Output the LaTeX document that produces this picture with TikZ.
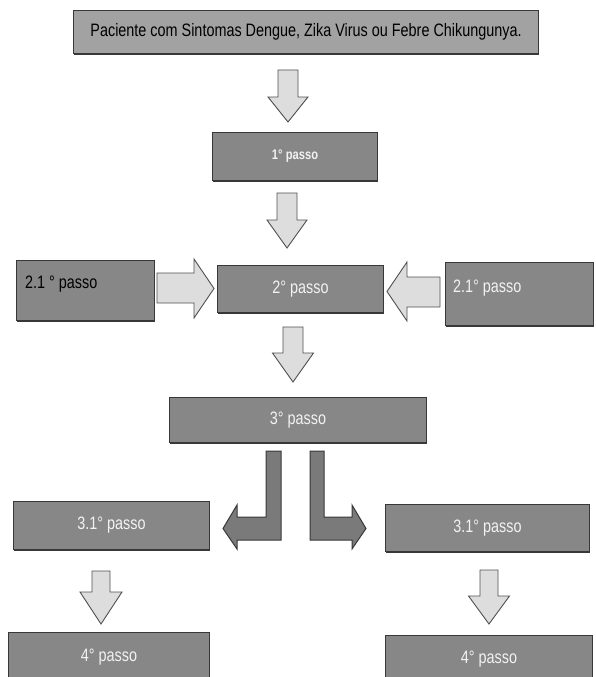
\documentclass[tikz,border=0pt]{standalone}
\usepackage{fontspec}
\newfontfamily\nfont[FakeStretch=0.8]{Liberation Sans}
\newfontfamily\nbfont[FakeStretch=0.8]{Liberation Sans Bold}
\usetikzlibrary{shadows}
\definecolor{boxfill}{HTML}{878787}
\definecolor{boxline}{HTML}{383838}
\definecolor{topfill}{HTML}{A2A2A2}
\definecolor{arrfill}{HTML}{DDDDDD}
\definecolor{arrline}{HTML}{505050}
\definecolor{bentfill}{HTML}{7A7A7A}
\definecolor{wtext}{HTML}{F2F2F2}
\tikzset{
  box/.style={draw=boxline, line width=1.1pt, fill=boxfill, anchor=north west,
    inner sep=0pt, font=\nfont\fontsize{18}{20}\selectfont, text=wtext,
    drop shadow={shadow xshift=0.8pt, shadow yshift=-1.6pt, fill=boxline, opacity=1}},
  lbl/.style={inner sep=0pt, font=\nfont\fontsize{18}{20}\selectfont},
  blockarrow/.style={draw=arrline, line width=0.9pt, fill=arrfill, line join=miter},
  bentarrow/.style={draw=boxline, line width=1pt, fill=bentfill, line join=miter}
}
\newcommand{\DArrow}[6]{%
  \draw[blockarrow] ({#1-#5},#2) -- ({#1+#5},#2) -- ({#1+#5},#3) -- ({#1+#6},#3)
    -- (#1,#4) -- ({#1-#6},#3) -- ({#1-#5},#3) -- cycle;}
\begin{document}
\begin{tikzpicture}[x=1pt,y=-1pt]
\useasboundingbox (0,0) rectangle (595,677);
\clip (0,0) rectangle (595,677);
% boxes
\node[box, fill=topfill, text=black, minimum width=465pt, minimum height=43pt] (top) at (73,10)
  {Paciente com Sintomas Dengue, Zika Virus ou Febre Chikungunya.};
\node[box, minimum width=165pt, minimum height=48pt, font=\nbfont\fontsize{14}{16}\selectfont] (b1) at (212,132) {1° passo};
\node[box, minimum width=138pt, minimum height=60pt] (b21L) at (16,260) {};
\node[lbl, anchor=west, text=black] (t21L) at ([xshift=9pt,yshift=6pt]b21L.west) {2.1 ° passo};
\node[box, minimum width=166pt, minimum height=47pt] (b2) at (217,265) {2° passo};
\node[box, minimum width=148pt, minimum height=63pt] (b21R) at (445,262) {};
\node[lbl, anchor=west, text=wtext] (t21R) at ([xshift=8pt,yshift=6pt]b21R.west) {2.1° passo};
\node[box, minimum width=257pt, minimum height=45pt] (b3) at (169,397) {3° passo};
\node[box, minimum width=196pt, minimum height=48pt] (b31L) at (13,501) {3.1° passo};
\node[box, minimum width=204pt, minimum height=47pt] (b31R) at (385,504) {3.1° passo};
\node[box, minimum width=201pt, minimum height=50pt] (b4L) at (8,632) {4° passo};
\node[box, minimum width=207pt, minimum height=47pt] (b4R) at (385,635) {4° passo};
% down block arrows
\DArrow{288}{70}{97}{122}{10}{20}
\DArrow{287}{193}{220}{248}{10}{20}
\DArrow{293}{327}{353}{382}{10}{20.5}
\DArrow{101}{571}{592}{624}{9}{21}
\DArrow{489}{570}{596}{624}{9}{20.5}
% horizontal block arrows
\draw[blockarrow] (157,273) -- (194,273) -- (194,259) -- (214,288.5) -- (194,318) -- (194,303) -- (157,303) -- cycle;
\draw[blockarrow] (440,277) -- (407,277) -- (407,262) -- (387,291.5) -- (407,321) -- (407,307) -- (440,307) -- cycle;
% bent arrows
\draw[bentarrow] (266,451) -- (281,451) -- (281,540) -- (237,540) -- (237,549) -- (223,528.5) -- (237,505) -- (237,517) -- (266,517) -- cycle;
\draw[bentarrow] (310,451) -- (324,451) -- (324,517) -- (352,517) -- (352,505) -- (366,528.5) -- (352,549) -- (352,540) -- (310,540) -- cycle;
\end{tikzpicture}
\end{document}
